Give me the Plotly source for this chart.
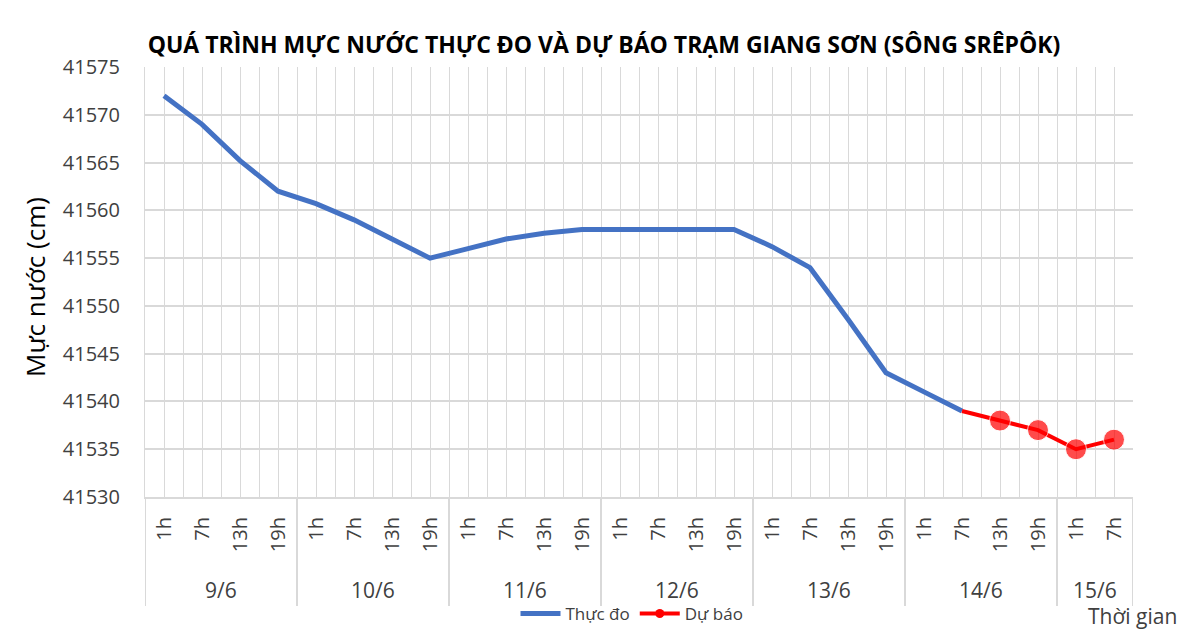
import plotly.graph_objects as go

# ---- data ----
days = ["9/6", "10/6", "11/6", "12/6", "13/6", "14/6", "15/6"]
hours_per_day = [["1h", "7h", "13h", "19h"]] * 6 + [["1h", "7h"]]
hour_labels = [h for hs in hours_per_day for h in hs]

observed = [41572, 41569, 41565.2, 41562,
            41560.7, 41559, 41557, 41555,
            41556, 41557, 41557.6, 41558,
            41558, 41558, 41558, 41558,
            41556.2, 41554, 41548.6, 41543,
            41541, 41539]
forecast = [41539, 41538, 41537, 41535, 41536]
forecast_start = 21  # index of 14/6 7h

y_ticks = [41530, 41535, 41540, 41545, 41550, 41555, 41560, 41565, 41570, 41575]
y_tick_text = [str(v) for v in y_ticks]

title_text = "QUÁ TRÌNH MỰC NƯỚC THỰC ĐO VÀ DỰ BÁO TRẠM GIANG SƠN (SÔNG SRÊPÔK)"
y_title = "Mực nước (cm)"
x_title = "Thời gian"

FONT = "Open Sans"
GRID = "#d9d9d9"
W, H = 1204, 637
OFF = 8  # page body margin

n = len(hour_labels)
x_obs = list(range(len(observed)))
x_fc = list(range(forecast_start, forecast_start + len(forecast)))

fig = go.Figure()
fig.add_trace(go.Scatter(
    x=x_obs, y=observed, mode="lines", name="Thực đo",
    line=dict(color="#4472C4", width=5)))
fig.add_trace(go.Scatter(
    x=x_fc, y=forecast, mode="lines+markers", name="Dự báo", showlegend=False,
    line=dict(color="#FF0000", width=4),
    marker=dict(color="#FF0000", size=[0] + [21] * (len(forecast) - 1))))
# legend proxy
fig.add_trace(go.Scatter(
    x=[None], y=[None], mode="lines+markers", name="Dự báo",
    line=dict(color="#FF0000", width=4),
    marker=dict(color="#FF0000", size=9)))

# group boundaries & labels
bounds = [-0.5]
centers = []
for hs in hours_per_day:
    start = bounds[-1]
    bounds.append(start + len(hs))
    centers.append(start + len(hs) / 2)

# plot area in screen pixels
SL, SR, ST, SB = 145, 1133, 67, 497
L = SL - OFF
T = ST - OFF
R = W - (SR - OFF)
B = H - (SB - OFF)
pw, ph = SR - SL, SB - ST


def px_x(p):
    return (p - SL) / pw


def px_y(p):
    return (SB - p) / ph


shapes = []
for b in bounds:
    shapes.append(dict(type="line", xref="x", yref="paper", x0=b, x1=b,
                       y0=0, y1=px_y(606), line=dict(color=GRID, width=2)))
shapes.append(dict(type="rect", xref="paper", yref="paper",
                   x0=px_x(5), x1=px_x(1203), y0=px_y(650), y1=px_y(7),
                   line=dict(color=GRID, width=2), layer="below"))

annotations = []
for d, c in zip(days, centers):
    annotations.append(dict(x=c, y=px_y(590), xref="x", yref="paper", text=d,
                            showarrow=False, font=dict(family=FONT, size=21, color="#404040"),
                            xanchor="center", yanchor="middle"))
annotations.append(dict(x=px_x(1132), y=px_y(616), xref="paper", yref="paper", text=x_title,
                        showarrow=False, font=dict(family=FONT, size=21, color="#404040"),
                        xanchor="center", yanchor="middle"))
annotations.append(dict(x=px_x(35), y=px_y(287), xref="paper", yref="paper", text=y_title,
                        textangle=-90, showarrow=False,
                        font=dict(family=FONT, size=26, color="#000000"),
                        xanchor="center", yanchor="middle"))

fig.update_layout(
    width=W, height=H,
    margin=dict(l=L, r=R, t=T, b=B, autoexpand=False),
    paper_bgcolor="white", plot_bgcolor="white",
    title=dict(text="<b>" + title_text + "</b>", xref="container",
               x=(604 - OFF) / W, xanchor="center",
               yref="container", y=1 - (45 - OFF) / H, yanchor="middle",
               font=dict(family=FONT, size=23, color="#000000")),
    xaxis=dict(range=[-0.5, n - 0.5], tickmode="array", tickvals=list(range(n)),
               ticktext=hour_labels, tickangle=-90, showgrid=True, gridcolor=GRID,
               gridwidth=1, zeroline=False, showline=True, linecolor=GRID, linewidth=2,
               ticks="", ticklabelstandoff=10, automargin=False,
               tickfont=dict(family=FONT, size=20, color="#404040"),
               minor=dict(tickmode="array", tickvals=[i + 0.5 for i in range(-1, n)],
                          showgrid=True, gridcolor=GRID, gridwidth=1, ticks="")),
    yaxis=dict(range=[41530, 41575], tickmode="array", tickvals=y_ticks,
               ticktext=y_tick_text,
               showgrid=True, gridcolor=GRID, gridwidth=1.5, zeroline=False,
               showline=True, linecolor=GRID, linewidth=1, ticks="",
               ticklabelstandoff=20, automargin=False,
               tickfont=dict(family=FONT, size=20, color="#404040")),
    legend=dict(orientation="h", x=px_x(632), xanchor="center", y=px_y(614),
                yanchor="middle", font=dict(family=FONT, size=17, color="#404040"),
                bgcolor="rgba(0,0,0,0)", itemwidth=40),
    shapes=shapes, annotations=annotations,
    showlegend=True,
)

fig.write_html("out.html")
